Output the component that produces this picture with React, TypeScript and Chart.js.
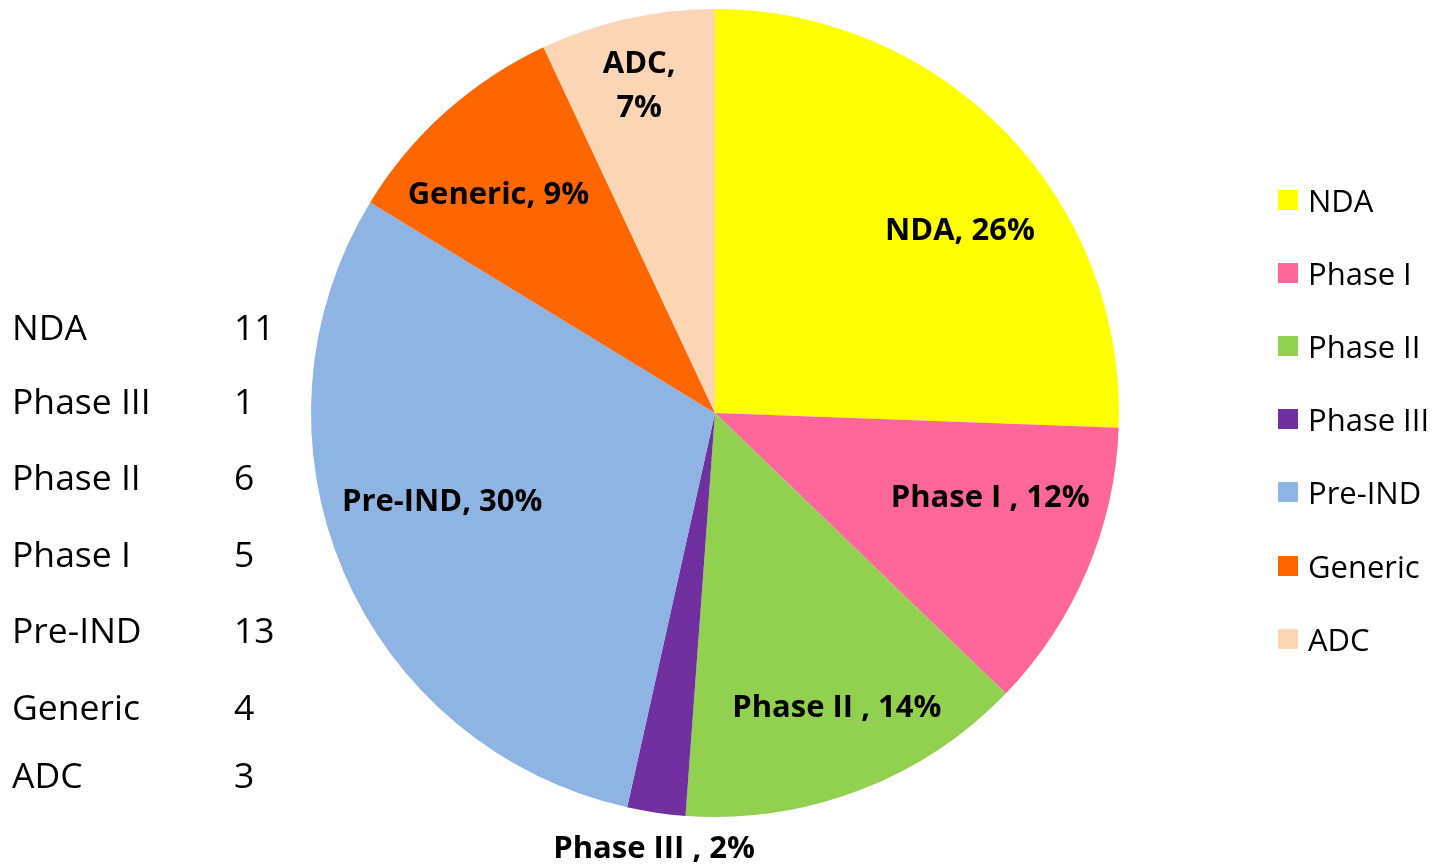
import React, { useEffect, useRef } from "react";
import { Chart, registerables } from "chart.js";

Chart.register(...registerables);

const sliceLabels = ["NDA", "Phase I", "Phase II", "Phase III", "Pre-IND", "Generic", "ADC"];
const sliceValues = [11, 5, 6, 1, 13, 4, 3];
const sliceColors = ["#FFFF00", "#FF6699", "#92D050", "#7030A0", "#8EB4E3", "#FF6600", "#FCD5B5"];
const sliceLabelText = [
  ["NDA, 26%"],
  ["Phase I , 12%"],
  ["Phase II , 14%"],
  ["Phase III , 2%"],
  ["Pre-IND, 30%"],
  ["Generic, 9%"],
  ["ADC,", "7%"],
];

const tableLabels = ["NDA", "Phase III", "Phase II", "Phase I", "Pre-IND", "Generic", "ADC"];
const tableValues = [11, 1, 6, 5, 13, 4, 3];

// label placement: fraction along the arc angle, fraction of radius
const labelPlacement = [
  { a: 0.58, r: 0.755 },
  { a: 0.36, r: 0.713 },
  { a: 0.47, r: 0.79 },
  { a: 0.45, r: 1.09 },
  { a: 0.546, r: 0.71 },
  { a: 0.41, r: 0.76 },
  { a: 0.48, r: 0.83 },
];

const FONT = "'Open Sans', Lato, sans-serif";

const labelPlugin = {
  id: "sliceLabels",
  afterDatasetsDraw(chart: any) {
    const ctx = chart.ctx;
    const meta = chart.getDatasetMeta(0);
    ctx.save();
    ctx.fillStyle = "#000";
    ctx.font = `bold 31px ${FONT}`;
    ctx.textAlign = "center";
    ctx.textBaseline = "middle";
    meta.data.forEach((arc: any, i: number) => {
      const p = labelPlacement[i];
      const ang = arc.startAngle + (arc.endAngle - arc.startAngle) * p.a;
      const rr = arc.outerRadius * p.r;
      const x = arc.x + Math.cos(ang) * rr;
      const y = arc.y + Math.sin(ang) * rr;
      const lines = sliceLabelText[i];
      const lh = 44;
      lines.forEach((ln, k) => {
        ctx.fillText(ln, x, y + (k - (lines.length - 1) / 2) * lh);
      });
    });
    ctx.restore();
  },
};

const tableTops = [326, 400, 476, 553, 629, 706, 774];
const legendTops = [200, 273, 346, 419, 492, 566, 639];

export default function App() {
  const ref = useRef<HTMLCanvasElement | null>(null);
  useEffect(() => {
    document.body.style.margin = "0";
    const chart = new Chart(ref.current!, {
      type: "pie",
      data: {
        labels: sliceLabels,
        datasets: [
          {
            data: sliceValues,
            backgroundColor: sliceColors,
            borderWidth: 0,
          },
        ],
      },
      options: {
        animation: false,
        responsive: false,
        layout: { padding: { left: 311, right: 322, top: 9, bottom: 48 } },
        plugins: {
          legend: { display: false },
          tooltip: { enabled: false },
        },
      },
      plugins: [labelPlugin],
    });
    return () => chart.destroy();
  }, []);

  return (
    <div style={{ position: "absolute", left: 0, top: 0, width: 1441, height: 865, background: "#fff", fontFamily: FONT }}>
      <canvas ref={ref} width={1441} height={865} style={{ position: "absolute", left: 0, top: 0 }} />
      {tableLabels.map((l, i) => (
        <React.Fragment key={l}>
          <div style={{ position: "absolute", left: 12, top: tableTops[i], transform: "translateY(-50%)", fontSize: 35.5, lineHeight: "44px", color: "#000" }}>{l}</div>
          <div style={{ position: "absolute", left: 234, top: tableTops[i], transform: "translateY(-50%)", fontSize: 35.5, lineHeight: "44px", color: "#000" }}>{tableValues[i]}</div>
        </React.Fragment>
      ))}
      {sliceLabels.map((l, i) => (
        <React.Fragment key={"lg" + l}>
          <div style={{ position: "absolute", left: 1278, top: legendTops[i] - 10, width: 20, height: 20, background: sliceColors[i] }} />
          <div style={{ position: "absolute", left: 1308, top: legendTops[i], transform: "translateY(-50%)", fontSize: 31, lineHeight: "38px", color: "#000" }}>{l}</div>
        </React.Fragment>
      ))}
    </div>
  );
}
